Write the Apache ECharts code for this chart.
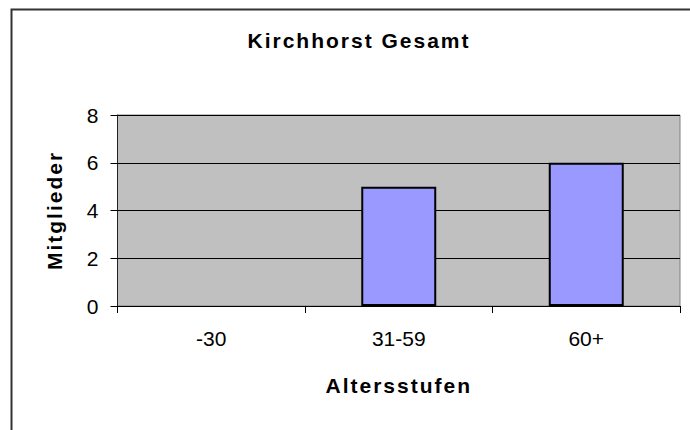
<!DOCTYPE html>
<html>
<head>
<meta charset="utf-8">
<script src="https://cdn.jsdelivr.net/npm/echarts@6/dist/echarts.min.js"></script>
<style>
  html, body { margin: 0; padding: 0; background: #fff; }
  #chart { width: 690px; height: 430px; }
  /* Excel stretches the bold captions */
  #chart text[style*="bold"] { letter-spacing: 2px; }
</style>
</head>
<body>
<div id="chart"></div>
<script>
  const categories = ['-30', '31-59', '60+'];
  const members = [0, 5, 6];
  const yTicks = [0, 2, 4, 6, 8];

  const chart = echarts.init(document.getElementById('chart'), null, { renderer: 'svg' });
  const font = "'Liberation Sans', Arial, sans-serif";

  // empty bars get no outline, like in the original
  const barData = members.map(v => v === 0 ? { value: v, itemStyle: { borderWidth: 0 } } : v);

  const option = {
    backgroundColor: '#fff',
    animation: false,
    title: {
      text: 'Kirchhorst Gesamt',
      left: 354,
      textAlign: 'center',
      top: 25,
      textStyle: { fontFamily: font, fontSize: 21, fontWeight: 'bold', color: '#000' }
    },
    graphic: [
      {
        type: 'polyline',
        shape: { points: [[11.5, 430], [11.5, 9.5], [690, 9.5]] },
        style: { stroke: '#333', lineWidth: 2, fill: null }
      }
    ],
    grid: {
      left: 117.5,
      top: 115,
      right: 10,
      bottom: 124,
      show: true,
      backgroundColor: '#C0C0C0',
      borderColor: '#808080',
      borderWidth: 1
    },
    xAxis: {
      type: 'category',
      data: categories,
      name: 'Altersstufen',
      nameLocation: 'middle',
      nameGap: 69,
      nameTextStyle: { fontFamily: font, fontSize: 21, fontWeight: 'bold', color: '#000' },
      axisLine: { lineStyle: { color: '#000', width: 1 } },
      axisTick: { show: true, length: 7, lineStyle: { color: '#000' } },
      axisLabel: { fontFamily: font, fontSize: 21, color: '#000', margin: 22 },
      splitLine: { show: false }
    },
    yAxis: {
      type: 'value',
      min: yTicks[0],
      max: yTicks[yTicks.length - 1],
      interval: 2,
      name: 'Mitglieder',
      nameLocation: 'middle',
      nameGap: 53,
      nameTextStyle: { fontFamily: font, fontSize: 21, fontWeight: 'bold', color: '#000' },
      axisLine: { show: true, lineStyle: { color: '#222', width: 1 } },
      axisTick: { show: true, length: 7, lineStyle: { color: '#000' } },
      axisLabel: { fontFamily: font, fontSize: 21, color: '#000', margin: 19 },
      splitLine: { show: true, lineStyle: { color: '#000', width: 1 } }
    },
    series: [
      {
        type: 'bar',
        data: barData,
        barWidth: '40%',
        itemStyle: { color: '#9999FF', borderColor: '#000', borderWidth: 2 }
      }
    ]
  };

  chart.setOption(option);
</script>
</body>
</html>
